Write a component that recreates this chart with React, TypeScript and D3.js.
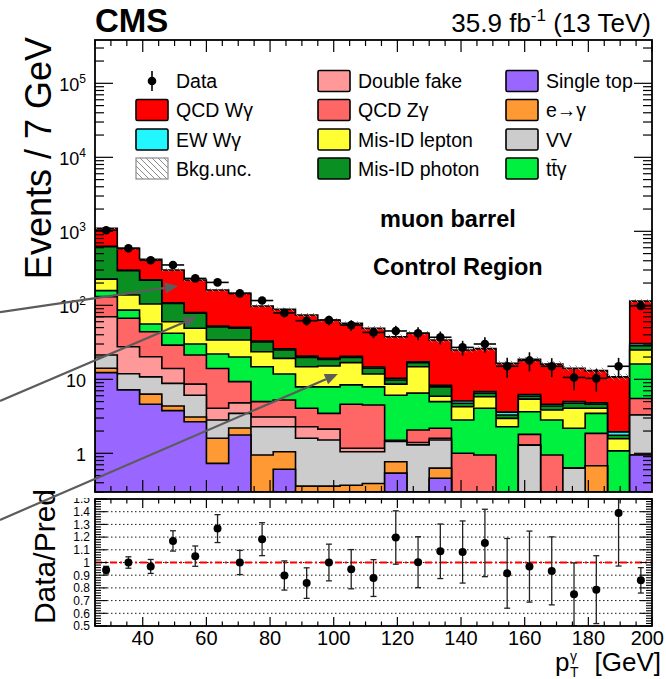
import React from "react";
import * as d3 from "d3";

// 7 GeV bins from 25 to 200 GeV (last bin includes overflow)
const binEdges = d3.range(25, 201, 7);

// Per-process yields per bin (events / 7 GeV), stacked bottom to top
const singleTop = [12.3, 7.2, 4.6, 3.77, 2.67, 0.73, 1.77, 0, 0.61, 0, 0, 0, 0, 0.54, 0, 0.46, 0, 0, 0, 0, 0, 0, 0, 0, 0.95];
const eToGamma = [1.8, 0, 1.7, 0.59, 0.43, 0.87, 0.43, 0.95, 0.44, 0.36, 0.36, 0.37, 0.39, 0.23, 0, 0.17, 0, 0, 0, 0, 0, 0, 0.68, 0, 0];
const diboson = [7.2, 4.7, 4.5, 4.44, 3.0, 1.22, 1.27, 1.34, 1.24, 1.24, 1.15, 0.68, 0.66, 0.68, 1.3, 0.88, 0, 0, 0, 1.29, 0, 0.63, 0, 0, 2.35];
const doubleFake = [48.7, 15.6, 9.4, 5.2, 2.5, 1.24, 1.33, 0.81, 0.81, 0.69, 0.61, 0.12, 0.12, 0, 0.1, 0.09, 0, 0, 0, 0, 0, 0, 0, 0, 0];
const qcdZg = [61, 39.5, 23.8, 15, 12.7, 9.94, 4.5, 1.9, 2.15, 1.77, 1.35, 3.43, 3.33, 0.05, 0.67, 0.58, 1.0, 0.95, 0, 0.51, 0.95, 0, 1.18, 0, 2.2];
const ttGamma = [27, 19, 12, 13, 8.7, 8, 10.7, 9.8, 6.55, 3.84, 4.43, 3.8, 3.4, 4.6, 4.43, 2.82, 1.82, 3.11, 2.29, 1.85, 1.87, 1.55, 1.61, 1.08, 10.6];
const misIdLepton = [68, 52, 48, 18, 19, 12, 14, 8.8, 7.4, 6.9, 7.2, 8.4, 3.9, 2.5, 8.3, 0.9, 1.44, 1.74, 0.68, 1.75, 1.03, 1.88, 0.59, 0.49, 8.8];
const misIdPhoton = [394, 156, 115, 46, 29, 17, 15, 8.4, 5.7, 5.0, 3.5, 3.0, 2.3, 1.2, 2.0, 2.0, 0.48, 0.7, 0.33, 0.5, 0.51, 0.68, 0.54, 0.18, 3.5];
const ewWg = [5, 3.5, 2.6, 2.4, 1.9, 1.5, 1.3, 1.0, 0.9, 0.8, 0.7, 0.6, 0.55, 0.5, 0.45, 0.4, 0.35, 0.35, 0.3, 0.3, 0.25, 0.25, 0.2, 0.2, 2.0];
const qcdWg = [475, 291.5, 197.4, 191.6, 140.1, 108.5, 94.7, 65, 62.2, 53.4, 43.7, 36.6, 34.35, 27.3, 24.65, 25.7, 19.85, 19.15, 12.8, 12.4, 11.45, 9.15, 8.3, 8.85, 83.6];

// Observed data and its uncertainty
const dataCounts = [1034, 589, 406, 351, 231, 204, 145, 116, 79, 62, 63, 54, 43, 45, 42, 37, 27, 30, 15, 18, 15, 10.6, 10.3, 15, 98];
const dataErrors = [33, 26.5, 23, 24, 17.6, 17.7, 13.8, 12.7, 10.1, 8.9, 9.1, 8.8, 7.1, 7.9, 8.4, 7.3, 6.1, 6.9, 4.5, 5.2, 4.3, 3.5, 3.5, 4.5, 11.4];

// Relative background uncertainty (hatched band)
const bkgUncertainty = [0.04, 0.04, 0.04, 0.045, 0.05, 0.05, 0.05, 0.055, 0.06, 0.06, 0.06, 0.065, 0.07, 0.07, 0.07, 0.075, 0.08, 0.08, 0.085, 0.085, 0.09, 0.09, 0.09, 0.1, 0.06];

const xTickLabels = [40, 60, 80, 100, 120, 140, 160, 180, 200];
const ratioTickLabels = [0.5, 0.6, 0.7, 0.8, 0.9, 1.0, 1.1, 1.2, 1.3, 1.4, 1.5];
const logTickLabels = [1, 10, 100, 1000, 10000, 100000];

const processes = [
  { key: "singleTop", values: singleTop, color: "#9966ff", label: "Single top" },
  { key: "eToGamma", values: eToGamma, color: "#ff9933", label: "e\u2192\u03b3" },
  { key: "diboson", values: diboson, color: "#cccccc", label: "VV" },
  { key: "doubleFake", values: doubleFake, color: "#ff9999", label: "Double fake" },
  { key: "qcdZg", values: qcdZg, color: "#ff6666", label: "QCD Z\u03b3" },
  { key: "ttGamma", values: ttGamma, color: "#00f040", label: "tt\u0304\u03b3" },
  { key: "misIdLepton", values: misIdLepton, color: "#ffff33", label: "Mis-ID lepton" },
  { key: "misIdPhoton", values: misIdPhoton, color: "#0a8f23", label: "Mis-ID photon" },
  { key: "ewWg", values: ewWg, color: "#22f6ff", label: "EW W\u03b3" },
  { key: "qcdWg", values: qcdWg, color: "#ff0000", label: "QCD W\u03b3" },
];

const FONT = "'Liberation Sans', Arial, Helvetica, sans-serif";
const X0 = 95, X1 = 652;
const TOP_Y0 = 40, TOP_Y1 = 492;
const RAT_Y0 = 499, RAT_Y1 = 626;

export default function App() {
  const x = d3.scaleLinear().domain([25, 200]).range([X0, X1]);
  const yLogFree = d3.scaleLog().domain([0.3, 3.85e5]).range([TOP_Y1, TOP_Y0]);
  const y = yLogFree.copy().clamp(true);
  const yr = d3.scaleLinear().domain([0.5, 1.5]).range([RAT_Y1, RAT_Y0]);

  const nBins = binEdges.length - 1;
  const rows = d3.range(nBins).map((i) => {
    const r: Record<string, number> = { i };
    processes.forEach((p) => (r[p.key] = p.values[i]));
    return r;
  });
  const stack = d3.stack<Record<string, number>>().keys(processes.map((p) => p.key));
  const series = stack(rows);
  const totals = d3.range(nBins).map((i) => series[series.length - 1][i][1]);

  // Step outline of a per-bin value array, filled down to the axis minimum
  const stepArea = (vals: number[]) => {
    const pts = vals.map((v, i) => ({ x: binEdges[i], v }));
    pts.push({ x: binEdges[nBins], v: vals[nBins - 1] });
    return d3
      .area<{ x: number; v: number }>()
      .x((d) => x(d.x))
      .y0(TOP_Y1)
      .y1((d) => y(Math.max(d.v, 1e-6)))
      .curve(d3.curveStepAfter)(pts) as string;
  };

  const bandArea = (lo: number[], hi: number[]) => {
    const pts = lo.map((v, i) => ({ x: binEdges[i], lo: v, hi: hi[i] }));
    pts.push({ x: binEdges[nBins], lo: lo[nBins - 1], hi: hi[nBins - 1] });
    return d3
      .area<{ x: number; lo: number; hi: number }>()
      .x((d) => x(d.x))
      .y0((d) => y(d.lo))
      .y1((d) => y(d.hi))
      .curve(d3.curveStepAfter)(pts) as string;
  };

  const bandLo = totals.map((t, i) => t * (1 - bkgUncertainty[i]));
  const bandHi = totals.map((t, i) => t * (1 + bkgUncertainty[i]));

  // Log axis tick positions
  const logMajor = logTickLabels;
  const logMinor: number[] = [];
  for (let e = -1; e <= 5; e++) {
    for (let m = 2; m <= 9; m++) {
      const v = m * Math.pow(10, e);
      if (v >= 0.3 && v <= 3.85e5) logMinor.push(v);
    }
  }
  const xMinor = d3.range(25, 201, 5).filter((v) => v % 20 !== 0);
  const xMajor = d3.range(40, 201, 20);
  const ratioMinor = d3.range(0, 51).map((k) => 0.5 + k * 0.02);
  const gridLevels = [0.6, 0.7, 0.8, 0.9, 1.0, 1.1, 1.2, 1.3, 1.4];

  const centers = d3.range(nBins).map((i) => (binEdges[i] + binEdges[i + 1]) / 2);
  const ratios = dataCounts.map((d, i) => d / totals[i]);
  const ratioErr = dataErrors.map((e, i) => e / totals[i]);

  const legendCols = [
    [
      { kind: "data", label: "Data" },
      { kind: "box", key: "qcdWg" },
      { kind: "box", key: "ewWg" },
      { kind: "hatch", label: "Bkg.unc." },
    ],
    [
      { kind: "box", key: "doubleFake" },
      { kind: "box", key: "qcdZg" },
      { kind: "box", key: "misIdLepton" },
      { kind: "box", key: "misIdPhoton" },
    ],
    [
      { kind: "box", key: "singleTop" },
      { kind: "box", key: "eToGamma" },
      { kind: "box", key: "diboson" },
      { kind: "box", key: "ttGamma" },
    ],
  ];
  const legendColX = [136, 318, 506];
  const legendRowY = [81, 110, 139.5, 168.5];

  // Gray annotation arrows (tail off the left edge, head inside the stack), in data units
  const arrows = [
    { from: [-4.85, 81], to: [51.1, 182] },
    { from: [-4.85, 5.09], to: [57.0, 69.5] },
    { from: [-4.85, 0.126], to: [101.3, 11.8] },
  ];

  // x tick label: centred on the tick, kept inside the canvas
  const xLabelPos = (v: number) => Math.min(x(v), 664 - (String(v).length * 0.556 * 20) / 2);

  return (
    <svg
      width={666}
      height={679}
      viewBox="0 0 666 679"
      style={{ position: "absolute", left: 0, top: 0, background: "#fff" }}
      fontFamily={FONT}
    >
      <defs>
        <pattern id="hatch" patternUnits="userSpaceOnUse" width={6} height={6}>
          <path d="M-1,-1 L7,7 M-1,5 L1,7 M5,-1 L7,1" stroke="#8a8a8a" strokeWidth={1} />
        </pattern>
        <clipPath id="topClip">
          <rect x={X0} y={TOP_Y0} width={X1 - X0} height={TOP_Y1 - TOP_Y0} />
        </clipPath>
        <clipPath id="ratioClip">
          <rect x={X0} y={RAT_Y0} width={X1 - X0} height={RAT_Y1 - RAT_Y0} />
        </clipPath>
        <clipPath id="ratioLabelClip">
          <rect x={0} y={RAT_Y0 - 1} width={X0} height={RAT_Y1 - RAT_Y0 + 20} />
        </clipPath>
      </defs>
      <rect x={0} y={0} width={666} height={679} fill="#fff" />

      {/* Stacked histograms: cumulative sums drawn largest first */}
      <g clipPath="url(#topClip)">
        {series
          .slice()
          .reverse()
          .map((s, k) => {
            const p = processes[series.length - 1 - k];
            return (
              <path
                key={p.key}
                d={stepArea(s.map((d) => d[1]))}
                fill={p.color}
                stroke="#000"
                strokeWidth={1.6}
                strokeLinejoin="miter"
              />
            );
          })}
        <path d={bandArea(bandLo, bandHi)} fill="url(#hatch)" stroke="none" />
      </g>

      {/* Axis ticks of both panels */}
      <g stroke="#000" strokeWidth={1.2}>
        {logMajor.map((v) => (
          <g key={"lM" + v}>
            <line x1={X0} x2={X0 + 18} y1={y(v)} y2={y(v)} />
            <line x1={X1} x2={X1 - 18} y1={y(v)} y2={y(v)} />
          </g>
        ))}
        {logMinor.map((v) => (
          <g key={"lm" + v}>
            <line x1={X0} x2={X0 + 9} y1={y(v)} y2={y(v)} />
            <line x1={X1} x2={X1 - 9} y1={y(v)} y2={y(v)} />
          </g>
        ))}
        {xMajor.map((v) => (
          <g key={"xM" + v}>
            <line x1={x(v)} x2={x(v)} y1={TOP_Y1} y2={TOP_Y1 - 12} />
            <line x1={x(v)} x2={x(v)} y1={TOP_Y0} y2={TOP_Y0 + 12} />
            <line x1={x(v)} x2={x(v)} y1={RAT_Y1} y2={RAT_Y1 - 9} />
            <line x1={x(v)} x2={x(v)} y1={RAT_Y0} y2={RAT_Y0 + 9} />
          </g>
        ))}
        {xMinor.map((v) => (
          <g key={"xm" + v}>
            <line x1={x(v)} x2={x(v)} y1={TOP_Y1} y2={TOP_Y1 - 6} />
            <line x1={x(v)} x2={x(v)} y1={TOP_Y0} y2={TOP_Y0 + 6} />
            <line x1={x(v)} x2={x(v)} y1={RAT_Y1} y2={RAT_Y1 - 4.5} />
            <line x1={x(v)} x2={x(v)} y1={RAT_Y0} y2={RAT_Y0 + 4.5} />
          </g>
        ))}
      </g>

      {/* Data points */}
      <g>
        {dataCounts.map((d, i) => (
          <g key={"d" + i}>
            <line x1={x(binEdges[i])} x2={x(binEdges[i + 1])} y1={y(d)} y2={y(d)} stroke="#000" strokeWidth={1.6} />
            <line x1={x(centers[i])} x2={x(centers[i])} y1={y(d - dataErrors[i])} y2={y(d + dataErrors[i])} stroke="#000" strokeWidth={1.6} />
            <circle cx={x(centers[i])} cy={y(d)} r={4.3} fill="#000" />
          </g>
        ))}
      </g>

      {/* Upper frame */}
      <rect x={X0} y={TOP_Y0} width={X1 - X0} height={TOP_Y1 - TOP_Y0} fill="none" stroke="#000" strokeWidth={1.8} />

      {/* Y axis labels (log) */}
      <g fontSize={18} textAnchor="end" fill="#000">
        {logTickLabels.map((v) => {
          const e = Math.round(Math.log10(v));
          return (
            <text key={"yl" + v} x={86} y={y(v) + 8}>
              {e === 0 ? "1" : "10"}
              {e >= 2 ? (
                <tspan fontSize={12} dy={-8}>
                  {e}
                </tspan>
              ) : null}
            </text>
          );
        })}
      </g>

      {/* Legend */}
      <g fontSize={19.5} fill="#000">
        {legendCols.map((col, c) =>
          col.map((item, r) => {
            const bx = legendColX[c];
            const cy = legendRowY[r];
            const proc = item.kind === "box" ? processes.find((p) => p.key === item.key)! : null;
            const label = proc ? proc.label : item.label;
            return (
              <g key={"lg" + c + r}>
                {item.kind === "data" ? (
                  <g>
                    <line x1={bx + 16} x2={bx + 16} y1={cy - 10} y2={cy + 10} stroke="#000" strokeWidth={1.6} />
                    <circle cx={bx + 16} cy={cy} r={4.3} fill="#000" />
                  </g>
                ) : item.kind === "hatch" ? (
                  <rect x={bx} y={cy - 10.5} width={32} height={21} fill="url(#hatch)" stroke="#8a8a8a" strokeWidth={1.2} />
                ) : (
                  <rect x={bx} y={cy - 10.5} width={32} height={21} fill={proc!.color} stroke="#000" strokeWidth={1.6} rx={1.5} />
                )}
                <text x={bx + 40} y={cy + 7}>
                  {label}
                </text>
              </g>
            );
          })
        )}
      </g>

      {/* Region labels */}
      <text x={380} y={227} fontSize={23.5} fontWeight="bold" fill="#000">
        muon barrel
      </text>
      <text x={373} y={275} fontSize={23.5} fontWeight="bold" fill="#000">
        Control Region
      </text>

      {/* Header */}
      <text x={95} y={32} fontSize={33} fontWeight="bold" fill="#000">
        CMS
      </text>
      <text x={651} y={32} fontSize={26} textAnchor="end" fill="#000">
        35.9 fb
        <tspan fontSize={17} dy={-11}>
          -1
        </tspan>
        <tspan dy={11}> (13 TeV)</tspan>
      </text>

      {/* Y title */}
      <text transform="translate(51,37) rotate(-90)" fontSize={36} textAnchor="end" fill="#000">
        Events / 7 GeV
      </text>

      {/* Ratio panel */}
      <g clipPath="url(#ratioClip)">
        {gridLevels.map((v) => (
          <line key={"g" + v} x1={X0} x2={X1} y1={yr(v)} y2={yr(v)} stroke="#000" strokeWidth={0.9} strokeDasharray="1.5 2.5" />
        ))}
        <line x1={X0} x2={X1} y1={yr(1)} y2={yr(1)} stroke="#ff0000" strokeWidth={2} strokeDasharray="7 3 2 3" />
        {ratios.map((r, i) => (
          <g key={"r" + i} stroke="#222" strokeWidth={1.3}>
            <line x1={x(centers[i])} x2={x(centers[i])} y1={yr(r - ratioErr[i])} y2={yr(r + ratioErr[i])} />
            <line x1={x(centers[i]) - 3} x2={x(centers[i]) + 3} y1={yr(r - ratioErr[i])} y2={yr(r - ratioErr[i])} />
            <line x1={x(centers[i]) - 3} x2={x(centers[i]) + 3} y1={yr(r + ratioErr[i])} y2={yr(r + ratioErr[i])} />
            <circle cx={x(centers[i])} cy={yr(r)} r={4} fill="#000" stroke="none" />
          </g>
        ))}
      </g>
      <g stroke="#000" strokeWidth={1.1}>
        {ratioMinor.map((v, k) => (
          <g key={"rm" + k}>
            <line x1={X0} x2={X0 + (k % 5 === 0 ? 12 : 6)} y1={yr(v)} y2={yr(v)} />
            <line x1={X1} x2={X1 - (k % 5 === 0 ? 12 : 6)} y1={yr(v)} y2={yr(v)} />
          </g>
        ))}
      </g>
      <rect x={X0} y={RAT_Y0} width={X1 - X0} height={RAT_Y1 - RAT_Y0} fill="none" stroke="#000" strokeWidth={1.8} />
      <g fontSize={12} textAnchor="end" fill="#000" clipPath="url(#ratioLabelClip)">
        {ratioTickLabels.map((v) => (
          <text key={"rl" + v} x={90} y={yr(v) + 4.3}>
            {v === 1 ? "1" : v.toFixed(1)}
          </text>
        ))}
      </g>
      <g fontSize={20} textAnchor="middle" fill="#000">
        {xTickLabels.map((v) => (
          <text key={"xl" + v} x={xLabelPos(v)} y={645}>
            {v}
          </text>
        ))}
      </g>
      <text transform="translate(55,489) rotate(-90)" fontSize={30} textAnchor="end" fill="#000">
        Data/Pred
      </text>

      {/* X title */}
      <text x={555} y={671} fontSize={26} fill="#000">p</text>
      <text x={570} y={661} fontSize={14} fill="#000">{"\u03b3"}</text>
      <text x={570} y={677} fontSize={14} fill="#000">T</text>
      <text x={661} y={671} fontSize={26} textAnchor="end" fill="#000">[GeV]</text>

      {/* Annotation arrows */}
      <g>
        {arrows.map((a, k) => {
          const x1 = x(a.from[0]), y1 = yLogFree(a.from[1]);
          const x2 = x(a.to[0]), y2 = yLogFree(a.to[1]);
          const ang = Math.atan2(y2 - y1, x2 - x1);
          const L = 13, Wd = 5.5;
          const bx = x2 - L * Math.cos(ang), by = y2 - L * Math.sin(ang);
          const p1 = [bx + Wd * Math.sin(ang), by - Wd * Math.cos(ang)];
          const p2 = [bx - Wd * Math.sin(ang), by + Wd * Math.cos(ang)];
          return (
            <g key={"a" + k}>
              <line x1={x1} y1={y1} x2={bx} y2={by} stroke="#5c5c5c" strokeWidth={2.2} />
              <polygon points={`${x2},${y2} ${p1[0]},${p1[1]} ${p2[0]},${p2[1]}`} fill="#5c5c5c" />
            </g>
          );
        })}
      </g>
    </svg>
  );
}
